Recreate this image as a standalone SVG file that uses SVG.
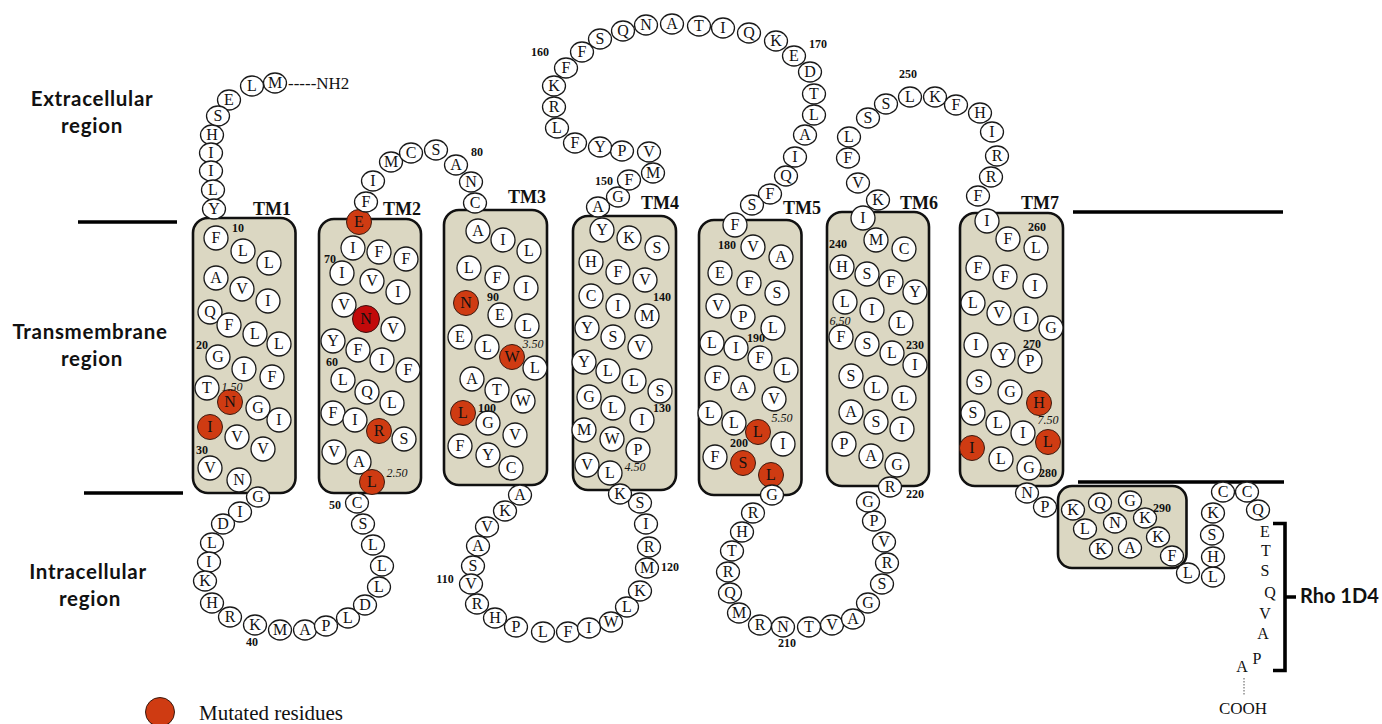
<svg xmlns="http://www.w3.org/2000/svg" xmlns:xlink="http://www.w3.org/1999/xlink" width="1382" height="724" viewBox="0 0 1382 724">
<style>
text{font-family:"Liberation Serif","Times New Roman",serif;fill:#111}
.rs text{font-size:16px;text-anchor:middle}
.num{font-size:12px;font-weight:bold;text-anchor:middle}
.bw{font-size:12px;font-style:italic;text-anchor:middle}
.tm{font-size:18px;font-weight:bold}
.reg{font-family:Lato,"Open Sans",sans-serif;font-size:20.5px;font-weight:bold;text-anchor:middle;letter-spacing:0.7px}
.box{fill:#dbd7c2;stroke:#111;stroke-width:2.6}
.mem{stroke:#000;stroke-width:3.6;fill:none}
.plain{font-size:16px;text-anchor:middle}
</style>
<defs>
<ellipse id="L" cx="0" cy="0" rx="11.5" ry="10" fill="#fff" stroke="#1a1a1a" stroke-width="1.3"/>
<circle id="T" cx="0" cy="0" r="12" fill="#fff" stroke="#1a1a1a" stroke-width="1.3"/>
<circle id="M" cx="0" cy="0" r="12.5" fill="#cf3b12" stroke="#3a1a10" stroke-width="1"/>
<circle id="M2" cx="0" cy="0" r="13.5" fill="#c20a0a" stroke="#3a1010" stroke-width="1"/>
</defs>
<rect width="1382" height="724" fill="#fff"/>

<g id="labels">
<text class="reg" x="92" y="106">Extracellular</text>
<text class="reg" x="92" y="133">region</text>
<text class="reg" x="90" y="339">Transmembrane</text>
<text class="reg" x="92" y="366">region</text>
<text class="reg" x="88" y="579">Intracellular</text>
<text class="reg" x="90" y="606">region</text>
</g>

<g id="membrane">
<path class="mem" d="M78,222H177M84,493H183M1073,212H1283M1078,482H1284"/>
</g>

<g id="boxes">
<rect id="box-tm1" class="box" x="193" y="218" width="102.5" height="275" rx="15"/>
<rect id="box-tm2" class="box" x="319" y="219" width="102" height="274" rx="15"/>
<rect id="box-tm3" class="box" x="444" y="210" width="103" height="275" rx="15"/>
<rect id="box-tm4" class="box" x="573" y="216" width="103" height="274" rx="15"/>
<rect id="box-tm5" class="box" x="699" y="220" width="102.5" height="275" rx="15"/>
<rect id="box-tm6" class="box" x="827" y="212" width="102" height="274" rx="15"/>
<rect id="box-tm7" class="box" x="960" y="213" width="103" height="273" rx="15"/>
<rect id="box-h8" class="box" x="1058" y="486" width="128.5" height="82" rx="14"/>
</g>

<g id="tm-labels" class="tm">
<text x="253" y="215">TM1</text>
<text x="383" y="215">TM2</text>
<text x="508" y="203">TM3</text>
<text x="641" y="209">TM4</text>
<text x="783" y="214">TM5</text>
<text x="900" y="209">TM6</text>
<text x="1021" y="209">TM7</text>
</g>

<g id="nterm" class="rs">
<text x="288" y="89" style="font-size:17px;text-anchor:start">-----NH2</text>
<use href="#L" x="275" y="83"/><text x="275" y="88">M</text>
<use href="#L" x="252" y="86"/><text x="252" y="91">L</text>
<use href="#L" x="229" y="100"/><text x="229" y="105">E</text>
<use href="#L" x="218" y="116"/><text x="218" y="121">S</text>
<use href="#L" x="212" y="135"/><text x="212" y="140">H</text>
<use href="#L" x="211" y="153"/><text x="211" y="158">I</text>
<use href="#L" x="211" y="171"/><text x="211" y="176">I</text>
<use href="#L" x="213" y="190"/><text x="213" y="195">L</text>
<use href="#L" x="214" y="209"/><text x="214" y="214">Y</text>
</g>

<g id="tm1" class="rs">
<use href="#T" x="216" y="238"/><text x="216" y="243">F</text>
<use href="#T" x="243" y="251"/><text x="243" y="256">L</text>
<use href="#T" x="269" y="263"/><text x="269" y="268">L</text>
<use href="#T" x="216" y="278"/><text x="216" y="283">A</text>
<use href="#T" x="242" y="289"/><text x="242" y="294">V</text>
<use href="#T" x="268" y="301"/><text x="268" y="306">I</text>
<use href="#T" x="210" y="312"/><text x="210" y="317">Q</text>
<use href="#T" x="229" y="325"/><text x="229" y="330">F</text>
<use href="#T" x="255" y="334"/><text x="255" y="339">L</text>
<use href="#T" x="279" y="344"/><text x="279" y="349">L</text>
<use href="#T" x="218" y="357"/><text x="218" y="362">G</text>
<use href="#T" x="244" y="369"/><text x="244" y="374">I</text>
<use href="#T" x="272" y="377"/><text x="272" y="382">F</text>
<use href="#T" x="207" y="388"/><text x="207" y="393">T</text>
<use href="#M" x="230" y="402"/><text x="230" y="407">N</text>
<use href="#T" x="258" y="408"/><text x="258" y="413">G</text>
<use href="#T" x="279" y="420"/><text x="279" y="425">I</text>
<use href="#M" x="210" y="427"/><text x="210" y="432">I</text>
<use href="#T" x="237" y="437"/><text x="237" y="442">V</text>
<use href="#T" x="263" y="449"/><text x="263" y="454">V</text>
<use href="#T" x="210" y="468"/><text x="210" y="473">V</text>
<use href="#T" x="239" y="480"/><text x="239" y="485">N</text>
</g>

<g id="icl1" class="rs">
<use href="#L" x="258" y="497"/><text x="258" y="502">G</text>
<use href="#L" x="240" y="512"/><text x="240" y="517">I</text>
<use href="#L" x="223" y="524"/><text x="223" y="529">D</text>
<use href="#L" x="212" y="543"/><text x="212" y="548">L</text>
<use href="#L" x="209" y="562"/><text x="209" y="567">I</text>
<use href="#L" x="205" y="581"/><text x="205" y="586">K</text>
<use href="#L" x="212" y="603"/><text x="212" y="608">H</text>
<use href="#L" x="230" y="617"/><text x="230" y="622">R</text>
<use href="#L" x="255" y="625"/><text x="255" y="630">K</text>
<use href="#L" x="280" y="630"/><text x="280" y="635">M</text>
<use href="#L" x="305" y="630"/><text x="305" y="635">A</text>
<use href="#L" x="326" y="626"/><text x="326" y="631">P</text>
<use href="#L" x="348" y="618"/><text x="348" y="623">L</text>
<use href="#L" x="365" y="605"/><text x="365" y="610">D</text>
<use href="#L" x="379" y="587"/><text x="379" y="592">L</text>
<use href="#L" x="382" y="566"/><text x="382" y="571">L</text>
<use href="#L" x="373" y="545"/><text x="373" y="550">L</text>
<use href="#L" x="363" y="524"/><text x="363" y="529">S</text>
<use href="#L" x="357" y="503"/><text x="357" y="508">C</text>
</g>

<g id="tm2" class="rs">
<use href="#M" x="359" y="222"/><text x="359" y="227">E</text>
<use href="#T" x="353" y="248"/><text x="353" y="253">I</text>
<use href="#T" x="379" y="252"/><text x="379" y="257">F</text>
<use href="#T" x="406" y="259"/><text x="406" y="264">F</text>
<use href="#T" x="342" y="273"/><text x="342" y="278">I</text>
<use href="#T" x="372" y="281"/><text x="372" y="286">V</text>
<use href="#T" x="398" y="292"/><text x="398" y="297">I</text>
<use href="#T" x="344" y="305"/><text x="344" y="310">V</text>
<use href="#M2" x="366" y="319"/><text x="366" y="324">N</text>
<use href="#T" x="393" y="329"/><text x="393" y="334">V</text>
<use href="#T" x="333" y="341"/><text x="333" y="346">Y</text>
<use href="#T" x="358" y="350"/><text x="358" y="355">F</text>
<use href="#T" x="382" y="360"/><text x="382" y="365">I</text>
<use href="#T" x="408" y="370"/><text x="408" y="375">F</text>
<use href="#T" x="343" y="380"/><text x="343" y="385">L</text>
<use href="#T" x="367" y="392"/><text x="367" y="397">Q</text>
<use href="#T" x="392" y="403"/><text x="392" y="408">L</text>
<use href="#T" x="333" y="413"/><text x="333" y="418">F</text>
<use href="#T" x="355" y="420"/><text x="355" y="425">I</text>
<use href="#M" x="379" y="431"/><text x="379" y="436">R</text>
<use href="#T" x="404" y="439"/><text x="404" y="444">S</text>
<use href="#T" x="334" y="452"/><text x="334" y="457">V</text>
<use href="#T" x="359" y="462"/><text x="359" y="467">A</text>
<use href="#M" x="372" y="482"/><text x="372" y="487">L</text>
</g>

<g id="ecl1" class="rs">
<use href="#L" x="366" y="202"/><text x="366" y="207">F</text>
<use href="#L" x="373" y="181"/><text x="373" y="186">I</text>
<use href="#L" x="391" y="162"/><text x="391" y="167">M</text>
<use href="#L" x="411" y="153"/><text x="411" y="158">C</text>
<use href="#L" x="436" y="150"/><text x="436" y="155">S</text>
<use href="#L" x="456" y="165"/><text x="456" y="170">A</text>
<use href="#L" x="471" y="182"/><text x="471" y="187">N</text>
<use href="#L" x="475" y="203"/><text x="475" y="208">C</text>
</g>

<g id="tm3" class="rs">
<use href="#T" x="478" y="231"/><text x="478" y="236">A</text>
<use href="#T" x="503" y="240"/><text x="503" y="245">I</text>
<use href="#T" x="529" y="251"/><text x="529" y="256">L</text>
<use href="#T" x="469" y="268"/><text x="469" y="273">L</text>
<use href="#T" x="497" y="278"/><text x="497" y="283">F</text>
<use href="#T" x="526" y="288"/><text x="526" y="293">I</text>
<use href="#M" x="466" y="303"/><text x="466" y="308">N</text>
<use href="#T" x="500" y="315"/><text x="500" y="320">E</text>
<use href="#T" x="527" y="326"/><text x="527" y="331">L</text>
<use href="#T" x="460" y="337"/><text x="460" y="342">E</text>
<use href="#T" x="487" y="347"/><text x="487" y="352">L</text>
<use href="#M" x="512" y="357"/><text x="512" y="362">W</text>
<use href="#T" x="535" y="368"/><text x="535" y="373">L</text>
<use href="#T" x="472" y="379"/><text x="472" y="384">A</text>
<use href="#T" x="497" y="390"/><text x="497" y="395">T</text>
<use href="#T" x="523" y="401"/><text x="523" y="406">W</text>
<use href="#M" x="463" y="413"/><text x="463" y="418">L</text>
<use href="#T" x="488" y="423"/><text x="488" y="428">G</text>
<use href="#T" x="515" y="435"/><text x="515" y="440">V</text>
<use href="#T" x="460" y="446"/><text x="460" y="451">F</text>
<use href="#T" x="488" y="455"/><text x="488" y="460">Y</text>
<use href="#T" x="511" y="468"/><text x="511" y="473">C</text>
</g>

<g id="icl2" class="rs">
<use href="#L" x="520" y="495"/><text x="520" y="500">A</text>
<use href="#L" x="505" y="511"/><text x="505" y="516">K</text>
<use href="#L" x="487" y="527"/><text x="487" y="532">V</text>
<use href="#L" x="478" y="546"/><text x="478" y="551">A</text>
<use href="#L" x="473" y="566"/><text x="473" y="571">S</text>
<use href="#L" x="471" y="584"/><text x="471" y="589">V</text>
<use href="#L" x="477" y="604"/><text x="477" y="609">R</text>
<use href="#L" x="495" y="618"/><text x="495" y="623">H</text>
<use href="#L" x="516" y="627"/><text x="516" y="632">P</text>
<use href="#L" x="543" y="632"/><text x="543" y="637">L</text>
<use href="#L" x="568" y="632"/><text x="568" y="637">F</text>
<use href="#L" x="589" y="628"/><text x="589" y="633">I</text>
<use href="#L" x="611" y="622"/><text x="611" y="627">W</text>
<use href="#L" x="627" y="607"/><text x="627" y="612">L</text>
<use href="#L" x="640" y="591"/><text x="640" y="596">K</text>
<use href="#L" x="647" y="568"/><text x="647" y="573">M</text>
<use href="#L" x="649" y="547"/><text x="649" y="552">R</text>
<use href="#L" x="646" y="524"/><text x="646" y="529">I</text>
<use href="#L" x="640" y="503"/><text x="640" y="508">S</text>
<use href="#L" x="620" y="494"/><text x="620" y="499">K</text>
</g>

<g id="tm4" class="rs">
<use href="#T" x="610" y="473"/><text x="610" y="478">L</text>
<use href="#T" x="587" y="465"/><text x="587" y="470">V</text>
<use href="#T" x="638" y="450"/><text x="638" y="455">P</text>
<use href="#T" x="612" y="439"/><text x="612" y="444">W</text>
<use href="#T" x="584" y="430"/><text x="584" y="435">M</text>
<use href="#T" x="642" y="420"/><text x="642" y="425">I</text>
<use href="#T" x="613" y="408"/><text x="613" y="413">L</text>
<use href="#T" x="589" y="397"/><text x="589" y="402">G</text>
<use href="#T" x="660" y="391"/><text x="660" y="396">S</text>
<use href="#T" x="634" y="381"/><text x="634" y="386">L</text>
<use href="#T" x="608" y="371"/><text x="608" y="376">L</text>
<use href="#T" x="584" y="362"/><text x="584" y="367">Y</text>
<use href="#T" x="640" y="347"/><text x="640" y="352">V</text>
<use href="#T" x="613" y="337"/><text x="613" y="342">S</text>
<use href="#T" x="587" y="328"/><text x="587" y="333">Y</text>
<use href="#T" x="647" y="316"/><text x="647" y="321">M</text>
<use href="#T" x="618" y="306"/><text x="618" y="311">I</text>
<use href="#T" x="591" y="296"/><text x="591" y="301">C</text>
<use href="#T" x="645" y="280"/><text x="645" y="285">V</text>
<use href="#T" x="618" y="272"/><text x="618" y="277">F</text>
<use href="#T" x="591" y="262"/><text x="591" y="267">H</text>
<use href="#T" x="657" y="248"/><text x="657" y="253">S</text>
<use href="#T" x="629" y="238"/><text x="629" y="243">K</text>
<use href="#T" x="602" y="230"/><text x="602" y="235">Y</text>
</g>

<g id="ecl2" class="rs">
<use href="#L" x="598" y="207"/><text x="598" y="212">A</text>
<use href="#L" x="618" y="197"/><text x="618" y="202">G</text>
<use href="#L" x="629" y="180"/><text x="629" y="185">F</text>
<use href="#L" x="653" y="173"/><text x="653" y="178">M</text>
<use href="#L" x="649" y="152"/><text x="649" y="157">V</text>
<use href="#L" x="622" y="151"/><text x="622" y="156">P</text>
<use href="#L" x="600" y="147"/><text x="600" y="152">Y</text>
<use href="#L" x="575" y="143"/><text x="575" y="148">F</text>
<use href="#L" x="557" y="128"/><text x="557" y="133">L</text>
<use href="#L" x="554" y="107"/><text x="554" y="112">R</text>
<use href="#L" x="554" y="86"/><text x="554" y="91">K</text>
<use href="#L" x="566" y="68"/><text x="566" y="73">F</text>
<use href="#L" x="582" y="52"/><text x="582" y="57">F</text>
<use href="#L" x="600" y="39"/><text x="600" y="44">S</text>
<use href="#L" x="623" y="31"/><text x="623" y="36">Q</text>
<use href="#L" x="646" y="25"/><text x="646" y="30">N</text>
<use href="#L" x="672" y="24"/><text x="672" y="29">A</text>
<use href="#L" x="699" y="26"/><text x="699" y="31">T</text>
<use href="#L" x="723" y="28"/><text x="723" y="33">I</text>
<use href="#L" x="749" y="33"/><text x="749" y="38">Q</text>
<use href="#L" x="776" y="41"/><text x="776" y="46">K</text>
<use href="#L" x="794" y="56"/><text x="794" y="61">E</text>
<use href="#L" x="810" y="72"/><text x="810" y="77">D</text>
<use href="#L" x="814" y="94"/><text x="814" y="99">T</text>
<use href="#L" x="814" y="115"/><text x="814" y="120">L</text>
<use href="#L" x="805" y="135"/><text x="805" y="140">A</text>
<use href="#L" x="795" y="157"/><text x="795" y="162">I</text>
<use href="#L" x="786" y="176"/><text x="786" y="181">Q</text>
<use href="#L" x="770" y="194"/><text x="770" y="199">F</text>
<use href="#L" x="752" y="205"/><text x="752" y="210">S</text>
</g>

<g id="tm5" class="rs">
<use href="#T" x="735" y="225"/><text x="735" y="230">F</text>
<use href="#T" x="753" y="247"/><text x="753" y="252">V</text>
<use href="#T" x="781" y="257"/><text x="781" y="262">A</text>
<use href="#T" x="720" y="273"/><text x="720" y="278">E</text>
<use href="#T" x="749" y="283"/><text x="749" y="288">F</text>
<use href="#T" x="777" y="293"/><text x="777" y="298">S</text>
<use href="#T" x="718" y="306"/><text x="718" y="311">V</text>
<use href="#T" x="743" y="317"/><text x="743" y="322">P</text>
<use href="#T" x="773" y="328"/><text x="773" y="333">L</text>
<use href="#T" x="712" y="343"/><text x="712" y="348">L</text>
<use href="#T" x="736" y="348"/><text x="736" y="353">I</text>
<use href="#T" x="760" y="358"/><text x="760" y="363">F</text>
<use href="#T" x="786" y="370"/><text x="786" y="375">L</text>
<use href="#T" x="717" y="378"/><text x="717" y="383">F</text>
<use href="#T" x="743" y="388"/><text x="743" y="393">A</text>
<use href="#T" x="774" y="399"/><text x="774" y="404">V</text>
<use href="#T" x="710" y="413"/><text x="710" y="418">L</text>
<use href="#T" x="734" y="423"/><text x="734" y="428">L</text>
<use href="#M" x="758" y="432"/><text x="758" y="437">L</text>
<use href="#T" x="783" y="444"/><text x="783" y="449">I</text>
<use href="#T" x="715" y="457"/><text x="715" y="462">F</text>
<use href="#M" x="743" y="463"/><text x="743" y="468">S</text>
<use href="#M" x="771" y="475"/><text x="771" y="480">L</text>
</g>

<g id="icl3" class="rs">
<use href="#L" x="772" y="495"/><text x="772" y="500">G</text>
<use href="#L" x="753" y="513"/><text x="753" y="518">R</text>
<use href="#L" x="742" y="532"/><text x="742" y="537">H</text>
<use href="#L" x="732" y="551"/><text x="732" y="556">T</text>
<use href="#L" x="728" y="572"/><text x="728" y="577">R</text>
<use href="#L" x="730" y="593"/><text x="730" y="598">Q</text>
<use href="#L" x="739" y="613"/><text x="739" y="618">M</text>
<use href="#L" x="760" y="625"/><text x="760" y="630">R</text>
<use href="#L" x="783" y="627"/><text x="783" y="632">N</text>
<use href="#L" x="809" y="627"/><text x="809" y="632">T</text>
<use href="#L" x="832" y="625"/><text x="832" y="630">V</text>
<use href="#L" x="853" y="619"/><text x="853" y="624">A</text>
<use href="#L" x="868" y="603"/><text x="868" y="608">G</text>
<use href="#L" x="882" y="584"/><text x="882" y="589">S</text>
<use href="#L" x="887" y="563"/><text x="887" y="568">R</text>
<use href="#L" x="884" y="542"/><text x="884" y="547">V</text>
<use href="#L" x="874" y="521"/><text x="874" y="526">P</text>
<use href="#L" x="868" y="502"/><text x="868" y="507">G</text>
<use href="#L" x="890" y="487"/><text x="890" y="492">R</text>
</g>

<g id="tm6" class="rs">
<use href="#T" x="897" y="465"/><text x="897" y="470">G</text>
<use href="#T" x="871" y="456"/><text x="871" y="461">A</text>
<use href="#T" x="844" y="444"/><text x="844" y="449">P</text>
<use href="#T" x="902" y="429"/><text x="902" y="434">I</text>
<use href="#T" x="876" y="422"/><text x="876" y="427">S</text>
<use href="#T" x="851" y="412"/><text x="851" y="417">A</text>
<use href="#T" x="904" y="398"/><text x="904" y="403">L</text>
<use href="#T" x="876" y="388"/><text x="876" y="393">L</text>
<use href="#T" x="851" y="376"/><text x="851" y="381">S</text>
<use href="#T" x="915" y="365"/><text x="915" y="370">I</text>
<use href="#T" x="892" y="353"/><text x="892" y="358">L</text>
<use href="#T" x="867" y="344"/><text x="867" y="349">S</text>
<use href="#T" x="841" y="337"/><text x="841" y="342">F</text>
<use href="#T" x="901" y="323"/><text x="901" y="328">L</text>
<use href="#T" x="872" y="310"/><text x="872" y="315">I</text>
<use href="#T" x="845" y="302"/><text x="845" y="307">L</text>
<use href="#T" x="915" y="292"/><text x="915" y="297">Y</text>
<use href="#T" x="891" y="282"/><text x="891" y="287">F</text>
<use href="#T" x="867" y="274"/><text x="867" y="279">S</text>
<use href="#T" x="842" y="267"/><text x="842" y="272">H</text>
<use href="#T" x="904" y="249"/><text x="904" y="254">C</text>
<use href="#T" x="876" y="240"/><text x="876" y="245">M</text>
<use href="#T" x="863" y="218"/><text x="863" y="223">I</text>
</g>

<g id="ecl3" class="rs">
<use href="#L" x="878" y="200"/><text x="878" y="205">K</text>
<use href="#L" x="858" y="183"/><text x="858" y="188">V</text>
<use href="#L" x="848" y="158"/><text x="848" y="163">F</text>
<use href="#L" x="849" y="137"/><text x="849" y="142">L</text>
<use href="#L" x="868" y="118"/><text x="868" y="123">S</text>
<use href="#L" x="886" y="104"/><text x="886" y="109">S</text>
<use href="#L" x="910" y="97"/><text x="910" y="102">L</text>
<use href="#L" x="935" y="97"/><text x="935" y="102">K</text>
<use href="#L" x="956" y="105"/><text x="956" y="110">F</text>
<use href="#L" x="980" y="113"/><text x="980" y="118">H</text>
<use href="#L" x="992" y="132"/><text x="992" y="137">I</text>
<use href="#L" x="997" y="156"/><text x="997" y="161">R</text>
<use href="#L" x="991" y="177"/><text x="991" y="182">R</text>
<use href="#L" x="978" y="196"/><text x="978" y="201">F</text>
</g>

<g id="tm7" class="rs">
<use href="#T" x="987" y="221"/><text x="987" y="226">I</text>
<use href="#T" x="1008" y="239"/><text x="1008" y="244">F</text>
<use href="#T" x="1036" y="248"/><text x="1036" y="253">L</text>
<use href="#T" x="978" y="268"/><text x="978" y="273">F</text>
<use href="#T" x="1005" y="277"/><text x="1005" y="282">F</text>
<use href="#T" x="1035" y="286"/><text x="1035" y="291">I</text>
<use href="#T" x="973" y="303"/><text x="973" y="308">L</text>
<use href="#T" x="999" y="313"/><text x="999" y="318">V</text>
<use href="#T" x="1026" y="319"/><text x="1026" y="324">I</text>
<use href="#T" x="1051" y="328"/><text x="1051" y="333">G</text>
<use href="#T" x="976" y="345"/><text x="976" y="350">I</text>
<use href="#T" x="1003" y="355"/><text x="1003" y="360">Y</text>
<use href="#T" x="1030" y="361"/><text x="1030" y="366">P</text>
<use href="#T" x="979" y="382"/><text x="979" y="387">S</text>
<use href="#T" x="1010" y="392"/><text x="1010" y="397">G</text>
<use href="#M" x="1039" y="403"/><text x="1039" y="408">H</text>
<use href="#T" x="973" y="413"/><text x="973" y="418">S</text>
<use href="#T" x="998" y="423"/><text x="998" y="428">L</text>
<use href="#T" x="1023" y="433"/><text x="1023" y="438">I</text>
<use href="#M" x="1048" y="442"/><text x="1048" y="447">L</text>
<use href="#M" x="972" y="448"/><text x="972" y="453">I</text>
<use href="#T" x="1001" y="459"/><text x="1001" y="464">L</text>
<use href="#T" x="1029" y="468"/><text x="1029" y="473">G</text>
</g>

<g id="h8-cterm" class="rs">
<use href="#L" x="1027" y="493"/><text x="1027" y="498">N</text>
<use href="#L" x="1045" y="507"/><text x="1045" y="512">P</text>
<use href="#L" x="1073" y="510"/><text x="1073" y="515">K</text>
<use href="#L" x="1100" y="503"/><text x="1100" y="508">Q</text>
<use href="#L" x="1130" y="501"/><text x="1130" y="506">G</text>
<use href="#L" x="1145" y="518"/><text x="1145" y="523">K</text>
<use href="#L" x="1115" y="523"/><text x="1115" y="528">N</text>
<use href="#L" x="1085" y="529"/><text x="1085" y="534">L</text>
<use href="#L" x="1158" y="537"/><text x="1158" y="542">K</text>
<use href="#L" x="1130" y="548"/><text x="1130" y="553">A</text>
<use href="#L" x="1101" y="549"/><text x="1101" y="554">K</text>
<use href="#L" x="1172" y="556"/><text x="1172" y="561">F</text>
<use href="#L" x="1188" y="573"/><text x="1188" y="578">L</text>
<use href="#L" x="1213" y="577"/><text x="1213" y="582">L</text>
<use href="#L" x="1213" y="557"/><text x="1213" y="562">H</text>
<use href="#L" x="1212" y="535"/><text x="1212" y="540">S</text>
<use href="#L" x="1213" y="513"/><text x="1213" y="518">K</text>
<use href="#L" x="1223" y="492"/><text x="1223" y="497">C</text>
<use href="#L" x="1247" y="492"/><text x="1247" y="497">C</text>
<use href="#L" x="1258" y="510"/><text x="1258" y="515">Q</text>
<g class="plain">
<text x="1265" y="537">E</text>
<text x="1266" y="556">T</text>
<text x="1265" y="576">S</text>
<text x="1270" y="598">Q</text>
<text x="1265" y="619">V</text>
<text x="1263" y="639">A</text>
<text x="1257" y="664">P</text>
<text x="1242" y="672">A</text>
<text x="1243" y="714" style="font-size:17px">COOH</text>
</g>
<path d="M1244,678V696" stroke="#555" stroke-width="1" stroke-dasharray="1.5,1.5" fill="none"/>
</g>

<g id="rho1d4">
<path d="M1273,523.5H1285V670.5H1273M1285,597H1296" stroke="#000" stroke-width="3.6" fill="none"/>
<text x="1300" y="603" style="font-family:Lato,'Open Sans',sans-serif;font-size:20px;font-weight:bold">Rho 1D4</text>
</g>

<g id="numbers" class="num">
<text x="238" y="232">10</text>
<text x="202" y="349">20</text>
<text x="202" y="454">30</text>
<text x="252" y="646">40</text>
<text x="335" y="509">50</text>
<text x="332" y="366">60</text>
<text x="330" y="263">70</text>
<text x="477" y="156">80</text>
<text x="493" y="301">90</text>
<text x="487" y="412">100</text>
<text x="445" y="583">110</text>
<text x="670" y="571">120</text>
<text x="662" y="412">130</text>
<text x="662" y="301">140</text>
<text x="604" y="185">150</text>
<text x="540" y="56">160</text>
<text x="818" y="48">170</text>
<text x="727" y="249">180</text>
<text x="756" y="342">190</text>
<text x="739" y="447">200</text>
<text x="787" y="647">210</text>
<text x="915" y="498">220</text>
<text x="915" y="349">230</text>
<text x="838" y="248">240</text>
<text x="908" y="78">250</text>
<text x="1037" y="231">260</text>
<text x="1032" y="348">270</text>
<text x="1048" y="477">280</text>
<text x="1162" y="512">290</text>
</g>

<g id="bw-labels" class="bw">
<text x="232" y="391">1.50</text>
<text x="397" y="477">2.50</text>
<text x="533" y="348">3.50</text>
<text x="635" y="471">4.50</text>
<text x="782" y="422">5.50</text>
<text x="840" y="325">6.50</text>
<text x="1048" y="424">7.50</text>
</g>

<g id="legend">
<circle cx="160" cy="712" r="14.5" fill="#cf3b12" stroke="#3a1a10" stroke-width="1"/>
<text x="199" y="720" style="font-size:21px">Mutated residues</text>
</g>
</svg>
